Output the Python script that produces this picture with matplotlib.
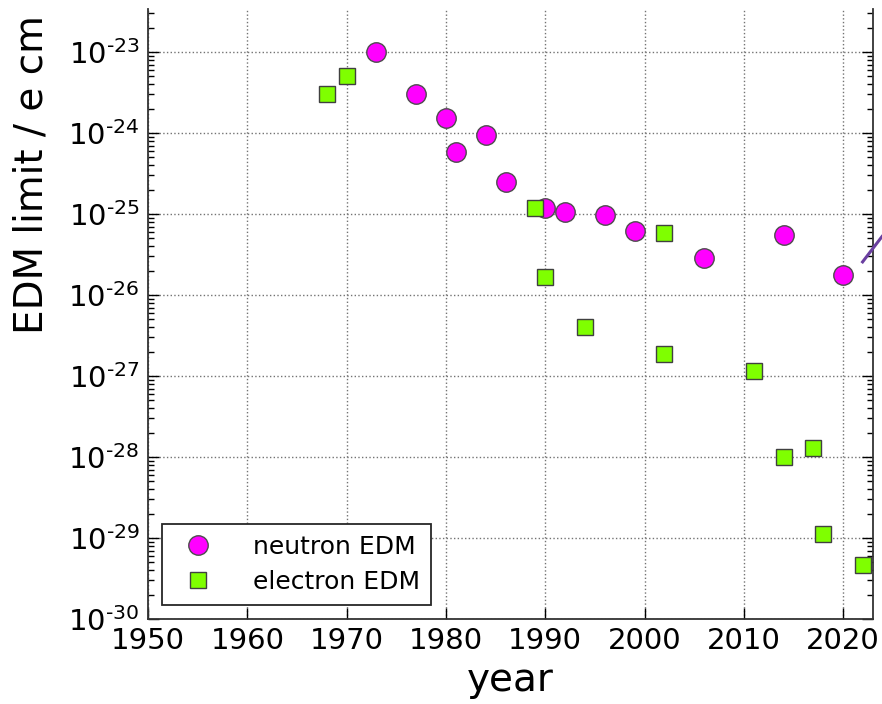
import matplotlib
matplotlib.use("Agg")
import numpy as np
import matplotlib.pyplot as plt
from matplotlib.lines import Line2D
from matplotlib.ticker import LogLocator, FuncFormatter, NullFormatter

# neutron EDM limits (e cm)
n_year = [1973, 1977, 1980, 1981, 1984, 1986, 1990, 1992, 1996, 1999, 2006, 2014, 2020]
n_limit = [1.0e-23, 3.0e-24, 1.55e-24, 5.8e-25, 9.5e-25, 2.5e-25, 1.2e-25, 1.07e-25,
           9.6e-26, 6.2e-26, 2.9e-26, 5.5e-26, 1.75e-26]

# electron EDM limits (e cm)
e_year = [1968, 1970, 1989, 1990, 1994, 2002, 2002, 2011, 2014, 2017, 2018, 2022]
e_limit = [3.0e-24, 5.0e-24, 1.2e-25, 1.65e-26, 4.0e-27, 5.9e-26, 1.85e-27, 1.15e-27,
           1.0e-28, 1.3e-28, 1.12e-29, 4.6e-30]

plt.rcParams['mathtext.default'] = 'regular'


def pow10(v, pos):
    e = int(round(np.log10(v)))
    return r'$10^{\text{%d}}$' % e


fig = plt.figure(figsize=(8.82, 7.04), dpi=100)
ax = fig.add_axes([0.1678, 0.1207, 0.822, 0.8665])

ax.plot(n_year, n_limit, 'o', ms=14, color='#ff00ff', mec='0.3', mew=1,
        label='neutron EDM', zorder=3)
ax.plot(e_year, e_limit, 's', ms=11.5, color='#7fff00', mec='0.25', mew=1,
        label='electron EDM', zorder=3)

ax.set_yscale('log')
ax.set_xlim(1950, 2023)
ax.set_ylim(1e-30, 3.4e-23)
ax.set_xticks(range(1950, 2021, 10))
ax.yaxis.set_major_locator(LogLocator(base=10, numticks=20))
ax.yaxis.set_major_formatter(FuncFormatter(pow10))
ax.yaxis.set_minor_locator(LogLocator(base=10, subs=range(2, 10), numticks=20))
ax.yaxis.set_minor_formatter(NullFormatter())

ax.grid(True, which='major', color='0.45', linestyle=':', linewidth=1)
ax.spines['top'].set_visible(False)
for s in ['left', 'right', 'bottom']:
    ax.spines[s].set_linewidth(1.3)
    ax.spines[s].set_color('0.2')
ax.tick_params(axis='both', which='major', direction='in', length=8, width=1,
               labelsize=21, pad=6)
ax.tick_params(axis='y', which='both', right=True)
ax.tick_params(axis='y', which='minor', direction='in', length=4, width=1)
ax.tick_params(axis='x', top=False)

ax.set_xlabel('year', fontsize=28, labelpad=4)
ax.set_ylabel('EDM limit / e cm', fontsize=28)
ax.yaxis.set_label_coords(-0.135, 0.728)

leg = ax.legend(loc='lower left', numpoints=1, fontsize=18, fancybox=False,
                framealpha=1, edgecolor='0.15', borderaxespad=0.55,
                handletextpad=1.2, borderpad=0.45, labelspacing=0.45)
leg.get_frame().set_linewidth(1.3)

# stray stroke at the right edge
fig.add_artist(Line2D([0.978, 1.0], [0.628, 0.664], color='#6a3fa0', lw=2.2))

fig.savefig('out.png', dpi=100)
